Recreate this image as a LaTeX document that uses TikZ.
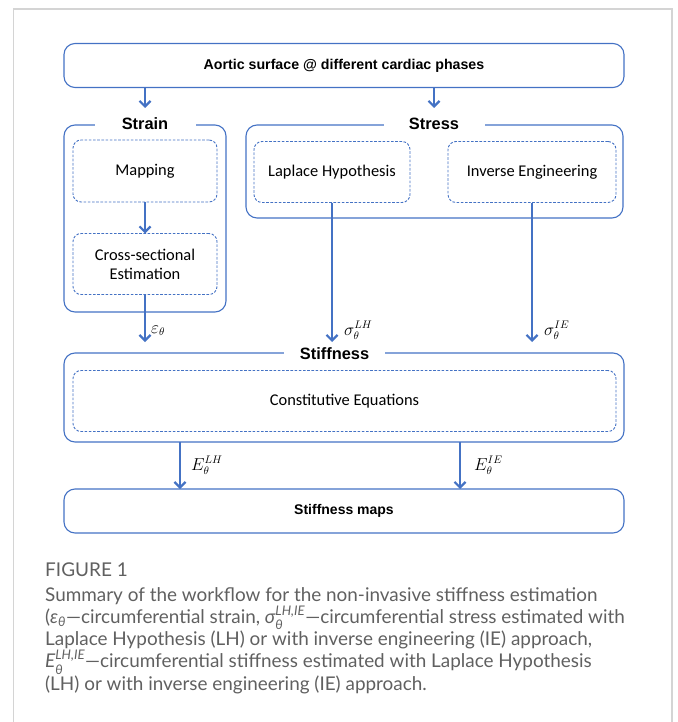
\documentclass[tikz,border=0pt]{standalone}
\usepackage{amsmath}
\usepackage{fontspec}
\setmainfont{Carlito}
\newfontfamily\headfont{Liberation Sans}
\newfontfamily\capfont{Lato}
\usepackage{xcolor}
\usepackage{tikz}
\usetikzlibrary{arrows.meta}

\definecolor{boxblue}{HTML}{4472C4}
\definecolor{capgray}{HTML}{606060}
\definecolor{framegray}{HTML}{D4D4D4}

\newcommand{\capsym}[1]{\text{\itshape #1}}

\tikzset{
    outerbox/.style={draw=boxblue, line width=1.1pt, rounded corners=11pt, inner sep=0pt, outer sep=0pt, align=center},
    innerbox/.style={draw=boxblue, line width=0.9pt, dash pattern=on 2.6pt off 1.6pt, rounded corners=8pt, inner sep=0pt, outer sep=0pt, align=center, font=\fontsize{16.4}{19}\selectfont},
    grouplbl/.style={fill=white, minimum width=101pt, inner ysep=2pt, font=\headfont\bfseries\fontsize{16.4}{19}\selectfont},
    flow/.style={draw=boxblue, line width=2.2pt, -{Straight Barb[length=5.5pt,width=11pt]}},
    symlbl/.style={inner sep=1pt, font=\fontsize{16}{18}\selectfont}
}

\begin{document}
\begin{tikzpicture}[x=1pt, y=-1pt]
    \useasboundingbox (0,0) rectangle (677,722);
    \draw[framegray, line width=1.5pt] (13.5,722) -- (13.5,9) -- (672,9) -- (672,722);

    % --- Input ---
    \node[outerbox, minimum width=560pt, minimum height=44pt, font=\headfont\bfseries\fontsize{14.2}{17}\selectfont] (aortic) at (344,65.5) {Aortic surface @ different cardiac phases};

    % --- Strain ---
    \node[outerbox, minimum width=162pt, minimum height=187pt] (strainbox) at (145,218.5) {};
    \node[grouplbl] (strainlbl) at (145,124) {Strain};
    \node[innerbox, minimum width=144pt, minimum height=62pt] (map) at (145,171) {Mapping};
    \node[innerbox, minimum width=144pt, minimum height=61pt] (cross) at (145,264) {Cross-sectional\\Estimation};

    % --- Stress ---
    \node[outerbox, minimum width=377pt, minimum height=93pt] (stressbox) at (434.5,171.5) {};
    \node[grouplbl] (stresslbl) at (434,124) {Stress};
    \node[innerbox, minimum width=156pt, minimum height=61pt] (laplace) at (332,172) {Laplace Hypothesis};
    \node[innerbox, minimum width=168pt, minimum height=61pt] (inverse) at (532,172) {Inverse Engineering};

    % --- Stiffness ---
    \node[outerbox, minimum width=560pt, minimum height=89pt] (stiffbox) at (344,397.5) {};
    \node[grouplbl] (stifflbl) at (334.5,354) {Stiffness};
    \node[innerbox, minimum width=543pt, minimum height=61pt] (consti) at (344.5,401) {Constitutive Equations};

    % --- Output ---
    \node[outerbox, minimum width=560pt, minimum height=44pt, font=\headfont\bfseries\fontsize{14}{17}\selectfont] (maps) at (344,511) {Stiffness maps};

    % --- Arrows ---
    \coordinate (strainin) at (145,108);
    \coordinate (stressin) at (434,108);
    \coordinate (elh) at (180,0);
    \coordinate (eie) at (460,0);
    \draw[flow] (aortic.south -| strainin) -- (strainin);
    \draw[flow] (aortic.south -| stressin) -- (stressin);
    \draw[flow] (map.south) -- (cross.north);
    \draw[flow, shorten >=11pt] (cross.south) -- node[symlbl, pos=0.62, right=4pt] {$\varepsilon_\theta$} (cross.south |- stiffbox.north);
    \draw[flow, shorten >=11pt] (laplace.south) -- node[symlbl, pos=0.85, right=10pt] {$\sigma_\theta^{LH}$} (laplace.south |- stiffbox.north);
    \draw[flow, shorten >=11pt] (inverse.south) -- node[symlbl, pos=0.85, right=10pt] {$\sigma_\theta^{IE}$} (inverse.south |- stiffbox.north);
    \draw[flow] (stiffbox.south -| elh) -- node[symlbl, right=9pt] {$E_\theta^{LH}$} (maps.north -| elh);
    \draw[flow] (stiffbox.south -| eie) -- node[symlbl, right=12pt] {$E_\theta^{IE}$} (maps.north -| eie);

    % --- Caption ---
    \node[anchor=base west, inner sep=0pt, text=capgray, font=\capfont\fontsize{19}{22}\selectfont] (figno) at (45,576) {FIGURE 1};
    \node[anchor=base west, inner sep=0pt, align=left, text=capgray, font=\capfont\fontsize{18.9}{22.3}\selectfont] (caption) at (45,690.2) {Summary of the workflow for the non-invasive stiffness estimation\\
        ($\capsym{ε}_{\capsym{θ}}$—circumferential strain, $\capsym{σ}_{\capsym{θ}}^{\capsym{LH,IE}}$—circumferential stress estimated with\\
        Laplace Hypothesis (LH) or with inverse engineering (IE) approach,\\
        $\capsym{E}_{\capsym{θ}}^{\capsym{LH,IE}}$—circumferential stiffness estimated with Laplace Hypothesis\\
        (LH) or with inverse engineering (IE) approach.};
\end{tikzpicture}
\end{document}
